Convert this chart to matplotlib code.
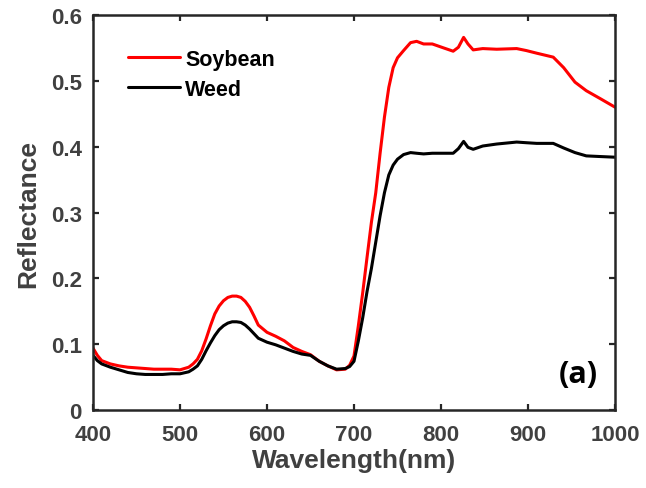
import matplotlib
matplotlib.use("Agg")
import matplotlib.pyplot as plt

wavelength = [400, 405, 410, 420, 430, 440, 450, 460, 470, 480, 490, 500, 510, 515, 520, 525,
              530, 535, 540, 545, 550, 555, 560, 565, 570, 575, 580, 585, 590,
              600, 610, 620, 630, 640, 650, 660, 670, 680, 690, 695, 700, 705, 710, 715,
              720, 725, 730, 735, 740, 745, 750, 757, 765, 772, 780, 790, 803, 814, 820,
              826, 831, 837, 848, 864, 887, 898, 910, 929, 941, 954, 967, 983, 1000]

soybean = [0.094, 0.083, 0.075, 0.070, 0.067, 0.065, 0.064, 0.063, 0.062, 0.062, 0.062, 0.061,
           0.065, 0.070, 0.077, 0.090, 0.108, 0.128, 0.146, 0.158, 0.166, 0.171, 0.173, 0.173,
           0.171, 0.165, 0.156, 0.143, 0.129, 0.118, 0.112, 0.105, 0.095, 0.089, 0.084, 0.074,
           0.067, 0.061, 0.062, 0.068, 0.082, 0.128, 0.178, 0.232, 0.285, 0.330, 0.390, 0.445,
           0.490, 0.520, 0.535, 0.546, 0.558, 0.560, 0.556, 0.556, 0.550, 0.545, 0.551, 0.566,
           0.556, 0.547, 0.549, 0.548, 0.549, 0.546, 0.542, 0.536, 0.520, 0.498, 0.485, 0.473,
           0.460]

weed = [0.083, 0.075, 0.070, 0.065, 0.061, 0.057, 0.055, 0.054, 0.054, 0.054, 0.055, 0.055,
        0.058, 0.062, 0.067, 0.077, 0.090, 0.102, 0.113, 0.122, 0.128, 0.132, 0.134, 0.134,
        0.133, 0.129, 0.123, 0.116, 0.109, 0.103, 0.099, 0.094, 0.089, 0.085, 0.083, 0.074,
        0.067, 0.062, 0.063, 0.066, 0.074, 0.105, 0.140, 0.180, 0.215, 0.255, 0.295, 0.330,
        0.357, 0.372, 0.381, 0.388, 0.391, 0.390, 0.389, 0.390, 0.390, 0.390, 0.397, 0.408,
        0.399, 0.396, 0.401, 0.404, 0.407, 0.406, 0.405, 0.405, 0.398, 0.391, 0.386, 0.385,
        0.384]

x_ticks = [400, 500, 600, 700, 800, 900, 1000]
y_ticks = [0, 0.1, 0.2, 0.3, 0.4, 0.5, 0.6]
y_tick_labels = ["0", "0.1", "0.2", "0.3", "0.4", "0.5", "0.6"]

plt.rcParams['font.family'] = ['Liberation Sans', 'DejaVu Sans']
plt.rcParams['font.weight'] = 'bold'

fig = plt.figure(figsize=(6.46, 4.89), dpi=100)
ax = fig.add_axes([93/646, 78/489, 522/646, 395/489])

ax.plot(wavelength, soybean, color='#ff0000', lw=2.2, label='Soybean',
        solid_joinstyle='round', solid_capstyle='round')
ax.plot(wavelength, weed, color='#000000', lw=2.2, label='Weed',
        solid_joinstyle='round', solid_capstyle='round')

ax.set_xlim(400, 1000)
ax.set_ylim(0, 0.6)
ax.set_xticks(x_ticks)
ax.set_xticklabels([str(t) for t in x_ticks])
ax.set_yticks(y_ticks)
ax.set_yticklabels(y_tick_labels)

tc = '#404040'
for s in ax.spines.values():
    s.set_linewidth(1.8)
    s.set_color('#262626')
ax.tick_params(direction='in', length=4, width=1.6, color='#262626',
               top=True, right=True, labelsize=16, labelcolor=tc)
ax.tick_params(axis='x', pad=10)
ax.tick_params(axis='y', pad=8)
for lab in ax.get_xticklabels() + ax.get_yticklabels():
    lab.set_fontweight('bold')

ax.set_xlabel('Wavelength(nm)', fontsize=19, fontweight='bold', color=tc, labelpad=2)
ax.set_ylabel('Reflectance', fontsize=19, fontweight='bold', color=tc, labelpad=8)

leg = ax.legend(loc='upper left', bbox_to_anchor=(0.067, 0.915), frameon=False,
                fontsize=15.5, handlelength=2.4, handletextpad=0.25,
                labelspacing=0.42, borderpad=0, borderaxespad=0)
for t in leg.get_texts():
    t.set_fontweight('bold')
    t.set_color('#000000')

ax.text(0.93, 0.09, '(a)', transform=ax.transAxes, ha='center', va='center',
        fontsize=22, fontweight='bold', family=['Open Sans', 'DejaVu Sans'], color='#000000')

fig.savefig('out.png', dpi=100)
